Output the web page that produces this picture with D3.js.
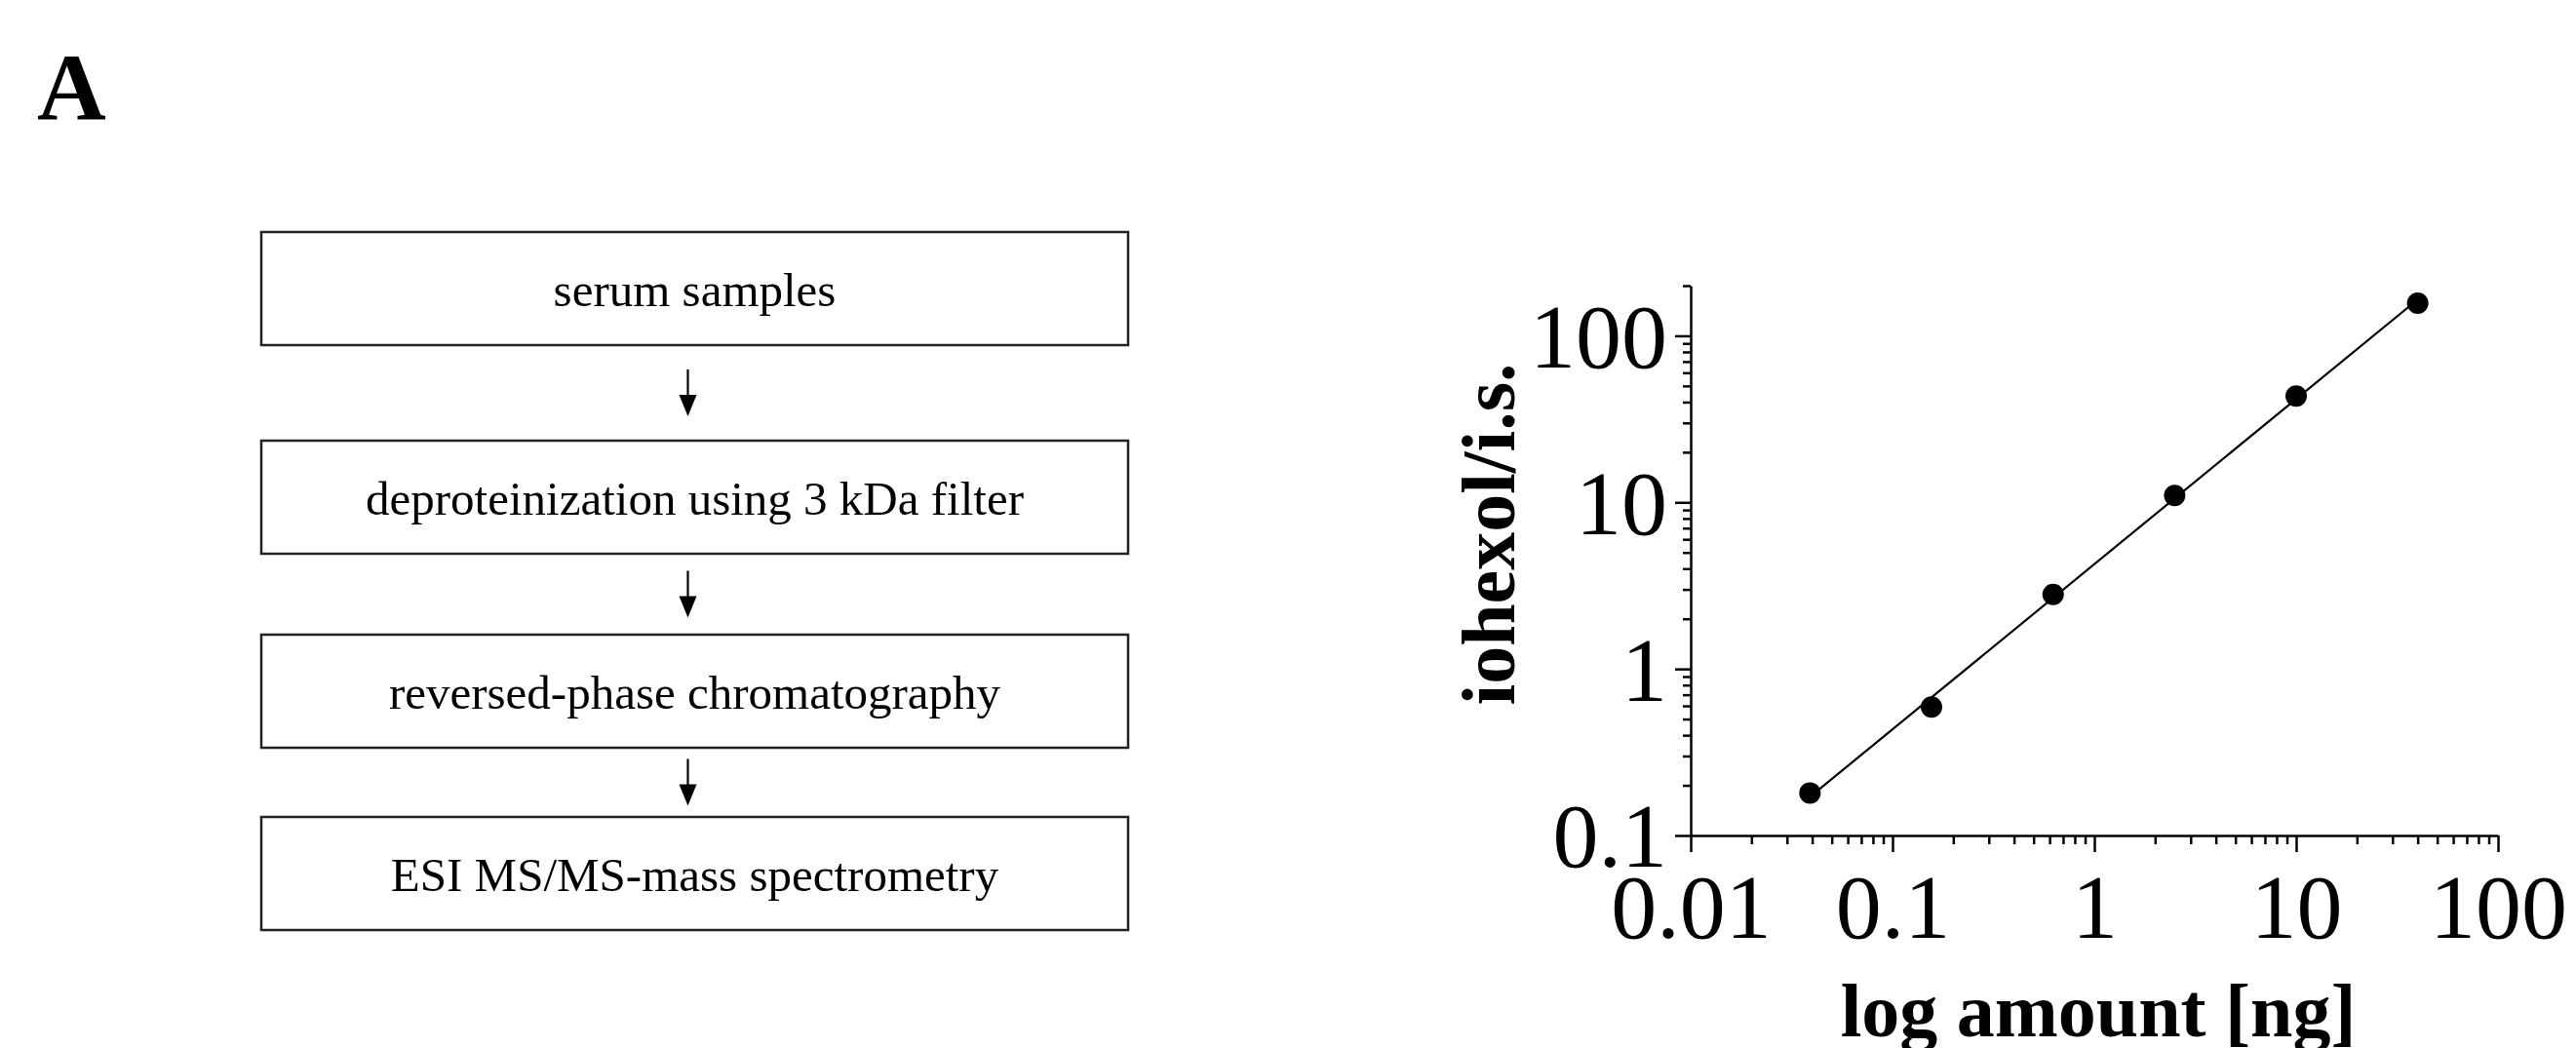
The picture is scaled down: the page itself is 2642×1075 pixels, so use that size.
<!DOCTYPE html>
<html lang="en">
<head>
<meta charset="UTF-8">
<title>iohexol calibration</title>
<script src="https://d3js.org/d3.v7.min.js"></script>
<style>
  body { margin: 0; background: #fff; }
  text { font-family: "Liberation Serif", "Times New Roman", serif; fill: #000; }
</style>
</head>
<body>
<svg id="chart" width="2642" height="1075"></svg>
<script>
// data
const steps = ["serum samples", "deproteinization using 3 kDa filter", "reversed-phase chromatography", "ESI MS/MS-mass spectrometry"];
const amounts = [0.039, 0.156, 0.625, 2.5, 10, 40];      // ng
const ratios = [0.18, 0.59, 2.8, 11, 43.5, 157];        // iohexol / i.s.
const xTickValues = [0.01, 0.1, 1, 10, 100];
const xTickLabels = ["0.01", "0.1", "1", "10", "100"];
const yTickValues = [0.1, 1, 10, 100];
const yTickLabels = ["0.1", "1", "10", "100"];

const svg = d3.select("#chart");

// panel letter
svg.append("text")
  .attr("x", 38).attr("y", 122)
  .style("font-size", "98px").style("font-weight", "bold")
  .text("A");

// flow chart
const boxLeft = 268, boxRight = 1157, boxH = 116;
const boxTop = [238, 452, 651, 838];
const cx = (boxLeft + boxRight) / 2;

const box = svg.append("g").selectAll("g")
  .data(steps)
  .join("g");

box.append("rect")
  .attr("x", boxLeft)
  .attr("y", (d, i) => boxTop[i])
  .attr("width", boxRight - boxLeft)
  .attr("height", boxH)
  .attr("fill", "none")
  .attr("stroke", "#222")
  .attr("stroke-width", 2.5);

box.append("text")
  .attr("x", cx)
  .attr("y", (d, i) => boxTop[i] + boxH / 2)
  .attr("dy", "0.36em")
  .attr("text-anchor", "middle")
  .style("font-size", "49px")
  .text(d => d);

// arrows between boxes
const arrows = svg.append("g");
for (let i = 0; i < steps.length - 1; i++) {
  const mid = (boxTop[i] + boxH + boxTop[i + 1]) / 2;
  const y0 = mid - 24, y1 = mid + 24;
  arrows.append("line")
    .attr("x1", cx - 7).attr("x2", cx - 7)
    .attr("y1", y0).attr("y2", y1 - 12)
    .attr("stroke", "#000").attr("stroke-width", 2.2);
  arrows.append("path")
    .attr("d", `M${cx - 16},${y1 - 22} L${cx + 2},${y1 - 22} L${cx - 7},${y1} Z`)
    .attr("fill", "#000");
}

// log-log plot
const x = d3.scaleLog().domain([0.01, 100]).range([1734, 2562]);
const y = d3.scaleLog().domain([0.1, 200]).range([857, 293]);

const minor = (lo, hi) => {
  const out = [];
  for (let e = lo; e < hi; e++) {
    for (let k = 2; k <= 9; k++) out.push(k * Math.pow(10, e));
  }
  return out;
};

// x axis
const gx = svg.append("g").attr("transform", `translate(0,${y(0.1)})`);
gx.append("g")
  .call(d3.axisBottom(x).tickValues(minor(-2, 2)).tickSize(9).tickFormat(""))
  .call(g => g.select(".domain").remove());
gx.append("g")
  .call(d3.axisBottom(x).tickValues(xTickValues).tickSize(17).tickSizeOuter(0)
    .tickFormat((d, i) => xTickLabels[i]));
gx.selectAll("line").attr("stroke", "#000").attr("stroke-width", 2.5);
gx.selectAll(".domain").attr("stroke", "#000").attr("stroke-width", 2.5);
gx.selectAll("text")
  .attr("y", 105).attr("dy", 0)
  .style("font-size", "94px")
  .style("font-family", "'Liberation Serif', 'Times New Roman', serif");

// y axis
const gy = svg.append("g").attr("transform", `translate(${x(0.01)},0)`);
gy.append("g")
  .call(d3.axisLeft(y).tickValues(minor(-1, 3).filter(v => v <= 200)).tickSize(8).tickFormat(""))
  .call(g => g.select(".domain").remove());
gy.append("g")
  .call(d3.axisLeft(y).tickValues(yTickValues).tickSize(16).tickSizeOuter(0).tickPadding(8)
    .tickFormat((d, i) => yTickLabels[i]));
gy.selectAll("line").attr("stroke", "#000").attr("stroke-width", 2.5);
gy.selectAll(".domain").attr("stroke", "#000").attr("stroke-width", 2.5);
gy.selectAll("text")
  .attr("dy", "0.34em")
  .style("font-size", "94px")
  .style("font-family", "'Liberation Serif', 'Times New Roman', serif");

// straight log-log fit through the points
const pts = amounts.map((a, i) => [a, ratios[i]]);
const lx = amounts.map(Math.log10), ly = ratios.map(Math.log10);
const mx = d3.mean(lx), my = d3.mean(ly);
const slope = d3.sum(lx, (v, i) => (v - mx) * (ly[i] - my)) / d3.sum(lx, v => (v - mx) ** 2);
const fit = a => Math.pow(10, my + slope * (Math.log10(a) - mx));
const ends = d3.extent(amounts).map(a => [a, fit(a)]);

svg.append("path")
  .datum(ends)
  .attr("fill", "none")
  .attr("stroke", "#000")
  .attr("stroke-width", 2.2)
  .attr("d", d3.line().x(d => x(d[0])).y(d => y(d[1])));

svg.append("g").selectAll("circle")
  .data(pts)
  .join("circle")
  .attr("cx", d => x(d[0]))
  .attr("cy", d => y(d[1]))
  .attr("r", 11)
  .attr("fill", "#000");

// axis titles
svg.append("text")
  .attr("transform", "translate(1553,548) rotate(-90)")
  .attr("text-anchor", "middle")
  .style("font-size", "78px").style("font-weight", "bold")
  .text("iohexol/i.s.");

svg.append("text")
  .attr("x", 2152).attr("y", 1063)
  .attr("text-anchor", "middle")
  .style("font-size", "78px").style("font-weight", "bold")
  .text("log amount [ng]");
</script>
</body>
</html>
